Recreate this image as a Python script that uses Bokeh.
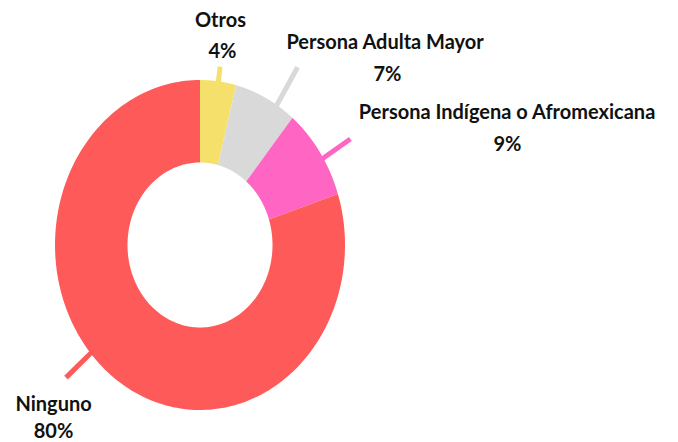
import numpy as np
from bokeh.plotting import figure
from bokeh.models import Range1d, ColumnDataSource
from bokeh.embed import file_html
from bokeh.resources import INLINE
from bokeh.core.properties import value

# ---- data ----
categories = ["Otros", "Persona Adulta Mayor", "Persona Indígena o Afromexicana", "Ninguno"]
values = [4, 7, 9, 80]
pct_labels = ["4%", "7%", "9%", "80%"]
colors = ["#F6E06C", "#D9D9D9", "#FF66C4", "#FF5A5A"]

# ---- layout (unit-circle space) ----
inner_r = 0.5
leader_angle = [82.7, 58.0, 31.8, -139.0]
leader_r0 = [0.99, 0.99, 0.99, 0.99]
leader_r1 = [1.09, 1.27, 1.22, 1.225]
name_pos = [(0.141, 1.367), (1.279, 1.239), (2.12, 0.815), (-1.010, -0.955)]
pct_pos = [(0.155, 1.179), (1.293, 1.045), (2.12, 0.621), (-1.010, -1.124)]

W, H = 678, 442
p = figure(width=W, height=H, output_backend="svg", toolbar_location=None,
           x_range=Range1d(-1.3759, 3.300), y_range=Range1d(-1.197, 1.4818),
           min_border=0)
p.axis.visible = False
p.grid.visible = False
p.outline_line_color = None
p.background_fill_color = "white"
p.border_fill_color = "white"

total = float(sum(values))
xs, ys = [], []
start = 90.0
for v in values:
    end = start - 360.0 * v / total
    t = np.radians(np.linspace(start, end, 200))
    ox, oy = np.cos(t), np.sin(t)
    ix, iy = inner_r * np.cos(t[::-1]), inner_r * np.sin(t[::-1])
    xs.append(list(np.concatenate([ox, ix])))
    ys.append(list(np.concatenate([oy, iy])))
    start = end

p.patches(xs=xs, ys=ys, fill_color=colors, line_color=None)

a = np.radians(leader_angle)
p.segment(x0=np.array(leader_r0) * np.cos(a), y0=np.array(leader_r0) * np.sin(a),
          x1=np.array(leader_r1) * np.cos(a), y1=np.array(leader_r1) * np.sin(a),
          line_color=colors, line_width=5, line_cap="butt")

src_n = ColumnDataSource(dict(x=[q[0] for q in name_pos], y=[q[1] for q in name_pos], t=categories))
src_p = ColumnDataSource(dict(x=[q[0] for q in pct_pos], y=[q[1] for q in pct_pos], t=pct_labels))
for s in (src_n, src_p):
    p.text(x="x", y="y", text="t", source=s, text_align="center", text_baseline="middle",
           text_font=value("Lato"), text_font_style="bold", text_font_size="20px",
           text_color="#111111")

open("out.html", "w").write(file_html(p, INLINE))
